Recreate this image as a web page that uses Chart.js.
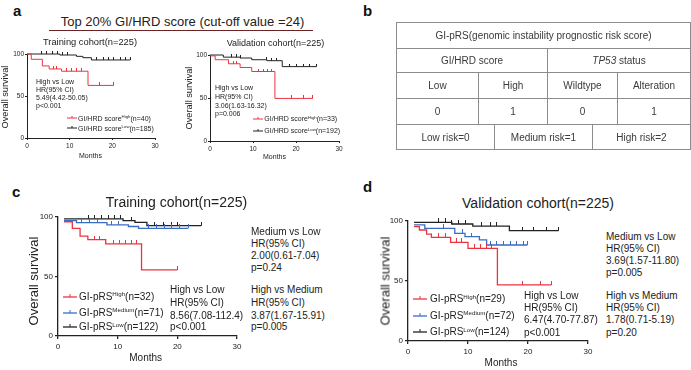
<!DOCTYPE html>
<html lang="en">
<head>
<meta charset="UTF-8" />
<title>GI-pRS survival</title>
<script src="https://cdn.jsdelivr.net/npm/chart.js"></script>
<style>
  body { margin: 0; background: #fff; }
  #page { position: relative; width: 691px; height: 370px; overflow: hidden;
          font-family: "Liberation Sans", Arial, sans-serif; color: #222; }
  .t { position: absolute; white-space: nowrap; line-height: 1; }
  .cell { position: absolute; box-sizing: border-box; border: 1px solid #8c8c8c;
          display: flex; align-items: center; justify-content: center;
          font-size: 10px; color: #3a3a3a; }
  canvas { position: absolute; }
  .sup { font-size: 0.62em; position: relative; top: -0.6em; }
</style>
</head>
<body>
<div id="page">
  <canvas id="aTrain"></canvas>
  <canvas id="aValid"></canvas>
  <canvas id="cTrain"></canvas>
  <canvas id="dValid"></canvas>
</div>

<script>
  // survival curves: event months (T), survival % after the event (S),
  // censor ticks in months (Cens)
  // a - training cohort, GI/HRD score
  const aTrHighT = [0, 1.0, 3.6, 5.2, 8.1, 14.3, 20.3];
  const aTrHighS = [100, 93.7, 85.8, 82.2, 79.5, 62.6, 62.6];
  const aTrHighCens = [6.1, 7.0, 9.3, 10.5, 11.6, 12.8, 17.1, 20.3];
  const aTrLowT = [0, 7.7, 11.6, 13.1, 15.1, 24.2];
  const aTrLowS = [100, 98.8, 97.2, 95.6, 92.9, 92.9];
  const aTrLowCens = [3.4, 4.6, 5.9, 7.1, 8.4, 9.6, 16.3, 17.9, 19.1, 20.3, 21.8, 23.0, 24.2];
  // a - validation cohort, GI/HRD score
  const aVaHighT = [0, 1.2, 4.3, 7.0, 9.7, 15.1, 23.9];
  const aVaHighS = [99, 94.5, 89.8, 85.5, 80.8, 49.5, 49.5];
  const aVaHighCens = [5.4, 6.2, 11.2, 12.4, 13.3, 14.3, 19.0, 21.7, 23.9];
  const aVaLowT = [0, 3.1, 7.0, 9.7, 13.2, 16.8, 24.8];
  const aVaLowS = [100, 97.5, 96.5, 94.5, 93.4, 86.5, 86.5];
  const aVaLowCens = [5.0, 6.2, 7.2, 13.1, 14.3, 15.5, 18.6, 20.1, 21.7, 23.2, 24.8];
  // c - training cohort, GI-pRS
  const cHighT = [1, 2.4, 3.7, 5.0, 8.0, 14.0, 20.0];
  const cHighS = [96, 90.5, 84, 81, 77.5, 55.5, 55.5];
  const cHighCens = [6.1, 7.0, 9.3, 10.3, 11.3, 12.3, 13.2, 20.0];
  const cMedT = [1, 3.1, 8.2, 11.8, 13.5, 21.8];
  const cMedS = [97, 95.2, 93.3, 92, 90.5, 90.5];
  const cMedCens = [3.9, 5.3, 6.7, 9.0, 10.1, 15.1, 16.5, 17.9, 19.0, 20.4, 21.8];
  const cLowT = [1, 10.9, 12.9, 14.9, 24];
  const cLowS = [98.5, 97, 95.5, 92.7, 92.7];
  const cLowCens = [5.1, 6.2, 7.3, 8.4, 9.5, 10.5, 12.4, 16.2, 17.6, 19.0, 20.1, 24];
  // d - validation cohort, GI-pRS
  const dHighT = [1, 1.9, 3.1, 3.9, 7.1, 10.0, 14.9, 23.9];
  const dHighS = [95.3, 92.5, 89, 86.4, 82.2, 77.2, 46.7, 46.7];
  const dHighCens = [5.1, 6.2, 8.1, 8.9, 11.1, 12.0, 13.0, 13.9, 19.0, 22.0, 23.9];
  const dMedT = [1, 2.8, 7.8, 9.5, 11.9, 13.1, 19.9];
  const dMedS = [96.7, 93.9, 89.7, 86.9, 84.2, 80, 80];
  const dMedCens = [5.9, 9.0, 10.5, 13.7, 14.8, 15.9, 17.0, 18.1, 19.2, 19.9];
  const dLowT = [1, 7.3, 10.8, 16.9, 25.1];
  const dLowS = [98.9, 97.5, 95.8, 91.9, 91.9];
  const dLowCens = [5.1, 6.2, 7.3, 8.4, 9.5, 12.3, 13.7, 14.8, 19.0, 20.9, 23.1, 25.1];

  const xTicks = [0, 10, 20, 30];
  const yTicks = [0, 50, 100];

  const RED = '#ec3440', BLUE = '#3a6cc4', BLACK = '#222';
  const page = document.getElementById('page');

  function levelAt(T, S, t) {
    let v = S[0];
    for (let i = 0; i < T.length; i++) if (T[i] <= t) v = S[i];
    return v;
  }

  // censor mark: short vertical tick standing on the curve
  function tickMark(color, h) {
    const c = document.createElement('canvas');
    c.width = 1; c.height = h * 2;
    const g = c.getContext('2d');
    g.fillStyle = color;
    g.fillRect(0, 0, 1, h);
    return c;
  }

  function kmChart(id, area, st, series) {
    const PT = 8, PR = 12;
    const cv = document.getElementById(id);
    cv.width = area.r - area.l + st.yw + PR;
    cv.height = area.b - area.t + PT + st.xh;
    cv.style.left = (area.l - st.yw) + 'px';
    cv.style.top = (area.t - PT) + 'px';

    const datasets = [];
    series.forEach(s => {
      datasets.push({
        data: s.t.map((t, i) => ({ x: t, y: s.s[i] })),
        showLine: true, stepped: 'before', borderColor: s.color,
        borderWidth: st.lw, pointRadius: 0, fill: false, clip: false
      });
      datasets.push({
        data: s.cens.map(t => ({ x: t, y: levelAt(s.t, s.s, t) })),
        showLine: false, pointStyle: tickMark(s.color, st.tick), pointRadius: 2, clip: false
      });
    });

    const font = { family: '"Liberation Sans", Arial, sans-serif', size: st.fs };
    const axisGrid = { drawOnChartArea: false, drawTicks: true, tickLength: st.tl, color: BLACK, lineWidth: st.aw };
    return new Chart(cv, {
      type: 'scatter',
      data: { datasets },
      options: {
        responsive: false, animation: false, events: [],
        layout: { padding: { top: PT, right: PR, left: 0, bottom: 0 } },
        plugins: { legend: { display: false }, tooltip: { enabled: false } },
        scales: {
          x: {
            type: 'linear', min: 0, max: 30,
            afterBuildTicks: s => { s.ticks = xTicks.map(v => ({ value: v })); },
            afterFit: s => { s.height = st.xh; s.paddingLeft = 0; s.paddingRight = 0; },
            ticks: { font, color: BLACK, padding: st.xp, maxRotation: 0 },
            grid: axisGrid,
            border: { color: BLACK, width: st.aw }
          },
          y: {
            type: 'linear', min: 0, max: 100,
            afterBuildTicks: s => { s.ticks = yTicks.map(v => ({ value: v })); },
            afterFit: s => { s.width = st.yw; s.paddingTop = 0; s.paddingBottom = 0; },
            ticks: { font, color: BLACK, padding: st.yp },
            grid: axisGrid,
            border: { color: BLACK, width: st.aw }
          }
        }
      }
    });
  }

  const small = { yw: 22, xh: 14, fs: 6.5, tl: 2, xp: 2, yp: 1, lw: 1, aw: 1, tick: 3 };
  const big = { yw: 30, xh: 20, fs: 8, tl: 3, xp: 3, yp: 2, lw: 1.3, aw: 1.3, tick: 4 };

  kmChart('aTrain', { l: 27, t: 54, r: 155, b: 138 }, small, [
    { t: aTrHighT, s: aTrHighS, cens: aTrHighCens, color: RED },
    { t: aTrLowT, s: aTrLowS, cens: aTrLowCens, color: BLACK }
  ]);
  kmChart('aValid', { l: 210, t: 55, r: 339, b: 141 }, small, [
    { t: aVaHighT, s: aVaHighS, cens: aVaHighCens, color: RED },
    { t: aVaLowT, s: aVaLowS, cens: aVaLowCens, color: BLACK }
  ]);
  kmChart('cTrain', { l: 58, t: 217, r: 237, b: 336 }, big, [
    { t: cHighT, s: cHighS, cens: cHighCens, color: RED },
    { t: cMedT, s: cMedS, cens: cMedCens, color: BLUE },
    { t: cLowT, s: cLowS, cens: cLowCens, color: BLACK }
  ]);
  kmChart('dValid', { l: 408, t: 221, r: 588, b: 341 }, big, [
    { t: dHighT, s: dHighS, cens: dHighCens, color: RED },
    { t: dMedT, s: dMedS, cens: dMedCens, color: BLUE },
    { t: dLowT, s: dLowS, cens: dLowCens, color: BLACK }
  ]);

  // ---- text ----
  function put(html, x, cy, size, opt) {
    opt = opt || {};
    const d = document.createElement('div');
    d.className = 't';
    d.innerHTML = html;
    d.style.fontSize = size + 'px';
    d.style.left = x + 'px';
    d.style.top = (cy - size / 2) + 'px';
    if (opt.center) d.style.transform = 'translateX(-50%)';
    if (opt.bold) d.style.fontWeight = 'bold';
    if (opt.color) d.style.color = opt.color;
    page.appendChild(d);
    return d;
  }
  function vput(text, cx, cy, size) {
    const d = put(text, cx, cy, size);
    d.style.top = cy + 'px';
    d.style.transform = 'translate(-50%,-50%) rotate(-90deg)';
  }
  function block(lines, x, cys, size) {
    lines.forEach((l, i) => put(l, x, cys[i], size));
  }
  function legendRow(x0, x1, cy, color, html, tx, size, lw, tick) {
    const svg = document.createElementNS('http://www.w3.org/2000/svg', 'svg');
    const w = x1 - x0;
    svg.setAttribute('width', w);
    svg.setAttribute('height', 10);
    svg.style.position = 'absolute';
    svg.style.left = x0 + 'px';
    svg.style.top = (cy - 6) + 'px';
    svg.innerHTML = `<line x1="0" y1="6" x2="${w}" y2="6" stroke="${color}" stroke-width="${lw}"/>` +
      `<line x1="${w / 2}" y1="${6 - tick}" x2="${w / 2}" y2="6" stroke="${color}" stroke-width="1"/>`;
    page.appendChild(svg);
    put(html, tx, cy, size);
  }
  const sup = s => `<span class="sup">${s}</span>`;

  // panel letters
  put('a', 13, 10.5, 15, { bold: true, color: '#111' });
  put('b', 363, 10.5, 15, { bold: true, color: '#111' });
  put('c', 12, 191, 15, { bold: true, color: '#111' });
  put('d', 363, 186.5, 15, { bold: true, color: '#111' });

  // panel a
  put('Top 20% GI/HRD score (cut-off value =24)', 182.5, 21.7, 13, { center: true });
  const rule = document.createElement('div');
  rule.style.cssText = 'position:absolute;left:49px;top:30px;width:264px;height:1.3px;background:#6b2424';
  page.appendChild(rule);
  put('Training cohort(n=225)', 90, 43, 9.3, { center: true });
  put('Validation cohort(n=225)', 275.5, 43, 9, { center: true });
  vput('Overall survival', 5.5, 97, 9.2);
  vput('Overall survival', 190, 97.5, 9.2);
  put('Months', 90.5, 155, 7, { center: true });
  put('Months', 274.5, 156, 7, { center: true });
  block(['High vs Low', 'HR(95% CI)', '5.49(4.42-50.05)', 'p&lt;0.001'], 36, [81.7, 89.5, 97.3, 105.2], 7);
  block(['High vs Low', 'HR(95% CI)', '3.06(1.63-16.32)', 'p=0.006'], 215, [87.3, 96, 105, 113.5], 7);
  legendRow(67, 77, 118.3, RED, 'GI/HRD score' + sup('High') + '(n=40)', 78, 7, 1, 2);
  legendRow(67, 77, 128.3, BLACK, 'GI/HRD score' + sup('Low') + '(n=185)', 78, 7, 1, 2);
  legendRow(253, 263, 118.8, RED, 'GI/HRD score' + sup('High') + '(n=33)', 264.3, 7, 1, 2);
  legendRow(253, 263, 130.7, BLACK, 'GI/HRD score' + sup('Low') + '(n=192)', 264.3, 7, 1, 2);

  // panel c
  put('Training cohort(n=225)', 176.5, 202, 14, { center: true });
  vput('Overall survival', 33.3, 281, 13);
  put('Months', 145.7, 358.3, 10, { center: true });
  legendRow(63, 77, 296.7, RED, 'GI-pRS' + sup('High') + '(n=32)', 79, 10, 1.3, 3);
  legendRow(63, 77, 312.7, BLUE, 'GI-pRS' + sup('Medium') + '(n=71)', 79, 10, 1.3, 3);
  legendRow(63, 77, 327.3, BLACK, 'GI-pRS' + sup('Low') + '(n=122)', 79, 10, 1.3, 3);
  block(['High vs Low', 'HR(95% CI)', '8.56(7.08-112.4)', 'p&lt;0.001'], 170, [290, 303, 315.5, 327], 10);
  block(['Medium vs Low', 'HR(95% CI)', '2.00(0.61-7.04)', 'p=0.24'], 251, [231.7, 244, 256.2, 268.3], 10);
  block(['High vs Medium', 'HR(95% CI)', '3.87(1.67-15.91)', 'p=0.005'], 251, [290, 303, 315.5, 327], 10);

  // panel d
  put('Validation cohort(n=225)', 538, 203, 14, { center: true });
  vput('Overall survival', 385, 281, 13);
  put('Months', 501, 363.3, 10, { center: true });
  legendRow(413, 427, 299.3, RED, 'GI-pRS' + sup('High') + '(n=29)', 430, 10, 1.3, 3);
  legendRow(413, 427, 316, BLUE, 'GI-pRS' + sup('Medium') + '(n=72)', 430, 10, 1.3, 3);
  legendRow(413, 427, 332.3, BLACK, 'GI-pRS' + sup('Low') + '(n=124)', 430, 10, 1.3, 3);
  block(['High vs Low', 'HR(95% CI)', '6.47(4.70-77.87)', 'p&lt;0.001'], 524, [296, 308.3, 320.3, 332.7], 10);
  block(['Medium vs Low', 'HR(95% CI)', '3.69(1.57-11.80)', 'p=0.005'], 606, [236.7, 249.3, 261, 272.7], 10);
  block(['High vs Medium', 'HR(95% CI)', '1.78(0.71-5.19)', 'p=0.20'], 606, [296, 308.3, 320.3, 332.7], 10);

  // panel b - scoring table: [x0, y0, x1, y1, text]
  const tableCells = [
    [396, 22, 690, 48, 'GI-pRS(genomic instability prognostic risk score)'],
    [396, 48, 547, 72, 'GI/HRD score'],
    [547, 48, 690, 72, '<i>TP53</i>&nbsp;status'],
    [396, 72, 478, 98, 'Low'], [478, 72, 547, 98, 'High'],
    [547, 72, 617, 98, 'Wildtype'], [617, 72, 690, 98, 'Alteration'],
    [396, 98, 478, 124, '0'], [478, 98, 547, 124, '1'],
    [547, 98, 617, 124, '0'], [617, 98, 690, 124, '1'],
    [396, 124, 494, 149, 'Low risk=0'], [494, 124, 592, 149, 'Medium risk=1'],
    [592, 124, 690, 149, 'High risk=2']
  ];
  tableCells.forEach(([x0, y0, x1, y1, txt]) => {
    const d = document.createElement('div');
    d.className = 'cell';
    d.style.left = x0 + 'px';
    d.style.top = y0 + 'px';
    d.style.width = (x1 - x0 + 1) + 'px';
    d.style.height = (y1 - y0 + 1) + 'px';
    d.innerHTML = txt;
    page.appendChild(d);
  });
</script>
</body>
</html>
